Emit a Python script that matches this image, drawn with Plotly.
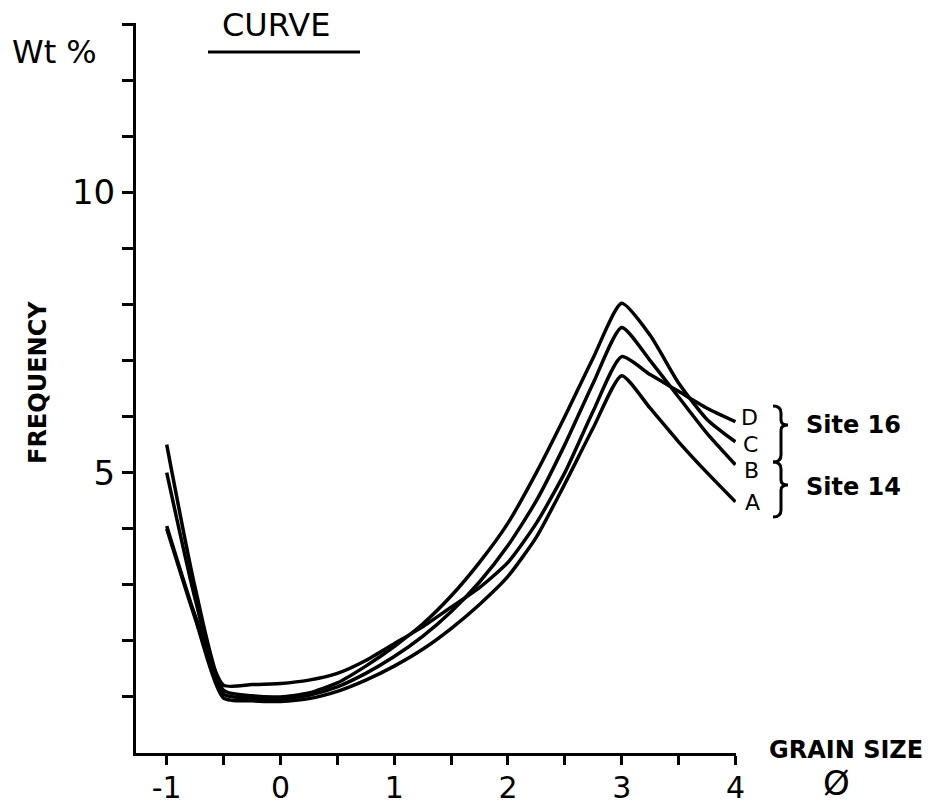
import plotly.graph_objects as go

# ---------------- data ----------------
grain_size = [-1, -0.75, -0.5, -0.25, 0, 0.25, 0.5, 0.75, 1, 1.25, 1.5, 1.75,
              2, 2.25, 2.5, 2.75, 3, 3.25, 3.5, 3.75, 4]

curve_A = [4.0, 2.40, 0.98, 0.93, 0.92, 0.97, 1.10, 1.30, 1.55, 1.85, 2.22, 2.65,
           3.15, 3.85, 4.80, 5.80, 6.73, 6.15, 5.55, 5.00, 4.48]
curve_B = [5.0, 2.75, 1.05, 0.98, 0.97, 1.03, 1.18, 1.42, 1.72, 2.08, 2.52, 3.05,
           3.70, 4.50, 5.50, 6.60, 7.59, 7.00, 6.35, 5.70, 5.14]
curve_C = [5.5, 2.95, 1.12, 1.02, 1.00, 1.07, 1.25, 1.55, 1.90, 2.30, 2.80, 3.40,
           4.10, 5.00, 6.00, 7.05, 8.02, 7.45, 6.60, 5.95, 5.55]
curve_D = [4.05, 2.45, 1.21, 1.22, 1.24, 1.30, 1.42, 1.65, 1.95, 2.25, 2.60, 2.95,
           3.40, 4.10, 5.00, 6.10, 7.07, 6.75, 6.45, 6.15, 5.91]

curve_names = ["A", "B", "C", "D"]
x_tick_vals = [-1, -0.5, 0, 0.5, 1, 1.5, 2, 2.5, 3, 3.5, 4]
x_tick_text = ["-1", "", "0", "", "1", "", "2", "", "3", "", "4"]
y_tick_vals = list(range(1, 14))
y_tick_text = ["5" if v == 5 else "10" if v == 10 else "" for v in y_tick_vals]

# ---------------- layout geometry ----------------
W, H = 934, 808
L, R, T, B = 136, 198, 23, 55
PW, PH = W - L - R, H - T - B


def px(xp):
    return (xp - L) / PW


def py(yp):
    return (H - B - yp) / PH


FONT = "DejaVu Sans"

fig = go.Figure()
for name, ys in zip(curve_names, [curve_A, curve_B, curve_C, curve_D]):
    fig.add_trace(go.Scatter(
        x=grain_size, y=ys, mode="lines", name=name,
        line=dict(color="black", width=3.5, shape="spline", smoothing=0.6),
        showlegend=False, hoverinfo="skip"))

annotations = []


def txt(text, xp, yp, size, bold=False, anchor="center", angle=0):
    annotations.append(dict(
        text=f"<b>{text}</b>" if bold else text,
        x=px(xp), y=py(yp), xref="paper", yref="paper",
        xanchor=anchor, yanchor="middle", showarrow=False, textangle=angle,
        font=dict(family=FONT, size=size, color="black")))


txt("Wt %", 10, 52, 32, anchor="left")
txt("CURVE", 276, 25, 32)
txt("FREQUENCY", 38, 383, 24, bold=True, angle=-90)
txt("GRAIN SIZE", 846, 750, 24, bold=True)
txt("Ø", 836, 783, 34)
txt("D", 749, 418, 22)
txt("C", 750, 444, 22)
txt("B", 751, 471, 22)
txt("A", 752, 502, 22)
txt("Site 16", 853, 425, 24, bold=True)
txt("Site 14", 853, 487, 24, bold=True)

shapes = [dict(type="line", xref="paper", yref="paper",
               x0=px(208), x1=px(360), y0=py(52), y1=py(52),
               line=dict(color="black", width=3))]


def brace(top, bottom, mid):
    x0, x1, x2 = 773, 781, 788
    pts = (f"M {px(x0)},{py(top)} "
           f"Q {px(x1)},{py(top)} {px(x1)},{py(top + 7)} "
           f"L {px(x1)},{py(mid - 5)} "
           f"Q {px(x1)},{py(mid)} {px(x2)},{py(mid)} "
           f"Q {px(x1)},{py(mid)} {px(x1)},{py(mid + 5)} "
           f"L {px(x1)},{py(bottom - 7)} "
           f"Q {px(x1)},{py(bottom)} {px(x0)},{py(bottom)}")
    return dict(type="path", xref="paper", yref="paper", path=pts,
                line=dict(color="black", width=3))


shapes.append(brace(406, 462, 425))
shapes.append(brace(462, 517, 485))

fig.update_layout(
    width=W, height=H, autosize=False,
    margin=dict(l=L, r=R, t=T, b=B, pad=0, autoexpand=False),
    paper_bgcolor="white", plot_bgcolor="white",
    annotations=annotations, shapes=shapes,
    xaxis=dict(range=[-1.27, 4.005], showgrid=False, zeroline=False,
               automargin=False,
               showline=True, linecolor="black", linewidth=3,
               ticks="outside", ticklen=9, tickwidth=2.5, tickcolor="black",
               ticklabelstandoff=-3,
               tickvals=x_tick_vals, ticktext=x_tick_text,
               tickfont=dict(family=FONT, size=30, color="black")),
    yaxis=dict(range=[0, 13.02], showgrid=False, zeroline=False,
               automargin=False,
               showline=True, linecolor="black", linewidth=3,
               ticks="outside", ticklen=11, tickwidth=2.5, tickcolor="black",
               tickvals=y_tick_vals, ticktext=y_tick_text,
               tickfont=dict(family=FONT, size=34, color="black")),
)

fig.write_html("out.html")
